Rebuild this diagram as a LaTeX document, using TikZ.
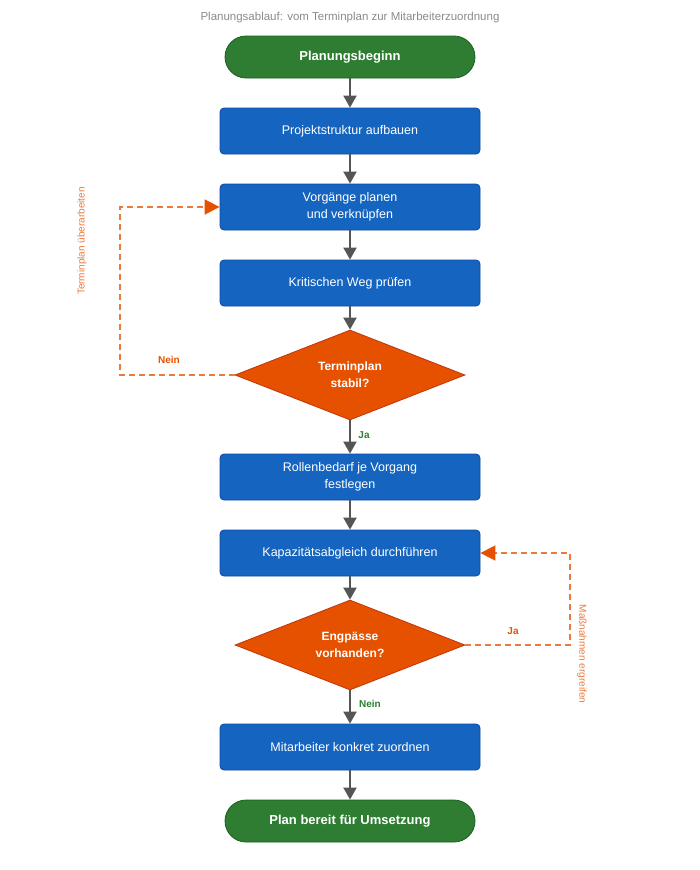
\documentclass[tikz,border=0pt]{standalone}
\usepackage{fontspec}
\setmainfont{Liberation Sans}
\usepackage{xcolor}
\usetikzlibrary{arrows.meta,positioning,shapes.geometric}

\definecolor{startgreen}{HTML}{2E7D32}
\definecolor{startedge}{HTML}{1B5E20}
\definecolor{stepblue}{HTML}{1565C0}
\definecolor{stepedge}{HTML}{0D47A1}
\definecolor{askorange}{HTML}{E65100}
\definecolor{askedge}{HTML}{BF360C}
\definecolor{loopline}{HTML}{EB7A3C}
\definecolor{flowgray}{HTML}{555555}
\definecolor{titlegray}{HTML}{8A8A8A}

\tikzset{
  terminal/.style={rectangle, rounded corners=21pt, fill=startgreen, draw=startedge, line width=0.8pt,
    text=white, minimum width=250pt, minimum height=42pt, font=\fontsize{13}{16}\selectfont\bfseries},
  stepbox/.style={rectangle, rounded corners=4pt, fill=stepblue, draw=stepedge, line width=0.8pt,
    text=white, minimum width=260pt, minimum height=46pt, align=center,
    font=\fontsize{12.5}{16.5}\selectfont},
  decision/.style={diamond, aspect=2.5, fill=askorange, draw=askedge, line width=0.8pt, text=white,
    minimum width=230pt, minimum height=90pt, inner sep=0pt, align=center,
    font=\fontsize{12}{17}\selectfont\bfseries},
  flow/.style={draw=flowgray, line width=2pt, -{Triangle[length=12pt,width=13pt]}},
  back/.style={draw=loopline, line width=1.6pt, dash pattern=on 6pt off 4pt,
    -{Triangle[length=15pt,width=15pt,color=askorange]}},
  yeslabel/.style={text=startgreen, font=\fontsize{10}{12}\selectfont\bfseries},
  nolabel/.style={text=askorange, font=\fontsize{10}{12}\selectfont\bfseries},
  sidelabel/.style={text=loopline, font=\fontsize{10}{12}\selectfont}
}

\begin{document}
\begin{tikzpicture}[x=1pt,y=-1pt]
  \useasboundingbox (0,0) rectangle (700,870);

  % Title
  \node[text=titlegray, font=\fontsize{11.5}{14}\selectfont] (title) at (350,18)
    {Planungsablauf: vom Terminplan zur Mitarbeiterzuordnung};

  % Main column
  \node[terminal] (start) at (350,57) {Planungsbeginn};
  \node[stepbox] (struct) at (350,131) {Projektstruktur aufbauen};
  \node[stepbox] (plan) at (350,207) {Vorgänge planen\\und verknüpfen};
  \node[stepbox] (path) at (350,283) {Kritischen Weg prüfen};
  \node[decision] (stable) at (350,375) {Terminplan\\stabil?};
  \node[stepbox] (roles) at (350,477) {Rollenbedarf je Vorgang\\festlegen};
  \node[stepbox] (level) at (350,553) {Kapazitätsabgleich durchführen};
  \node[decision] (neck) at (350,645) {Engpässe\\vorhanden?};
  \node[stepbox] (assign) at (350,747) {Mitarbeiter konkret zuordnen};
  \node[terminal] (ready) at (350,821) {Plan bereit für Umsetzung};

  % Arrows
  \draw[flow] (start) -- (struct);
  \draw[flow] (struct) -- (plan);
  \draw[flow] (plan) -- (path);
  \draw[flow] (path) -- (stable);
  \draw[flow] (stable) -- (roles);
  \draw[flow] (roles) -- (level);
  \draw[flow] (level) -- (neck);
  \draw[flow] (neck) -- (assign);
  \draw[flow] (assign) -- (ready);
  \node[yeslabel] (ja1) at (364,435) {Ja};
  \node[yeslabel] (nein2) at (370,704) {Nein};

  % Loop back: schedule not stable
  \coordinate (lcorner) at (120,375);
  \draw[back] (stable.west) -- (lcorner) |- (plan.west);
  \node[nolabel] (nein1) at (169,360) {Nein};
  \node[sidelabel, rotate=90] (redo) at (82,241) {Terminplan überarbeiten};

  % Loop back: bottlenecks found
  \coordinate (rcorner) at (570,645);
  \draw[back] (neck.east) -- (rcorner) |- (level.east);
  \node[nolabel] (ja2) at (513,631) {Ja};
  \node[sidelabel, rotate=-90] (act) at (582,654) {Maßnahmen ergreifen};
\end{tikzpicture}
\end{document}
